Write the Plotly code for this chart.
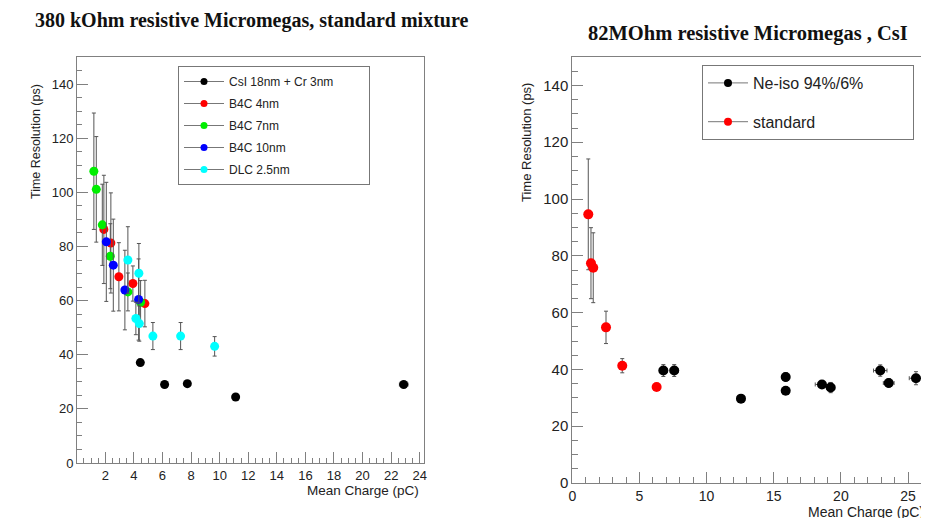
import plotly.graph_objects as go

# ---------------- Left panel data (380 kOhm, standard mixture) ----------------
csi_x = [4.45, 6.15, 7.74, 11.12, 22.88]
csi_y = [37.1, 29.0, 29.3, 24.4, 29.0]
csi_ey = [0.5, 0.5, 0.5, 0.5, 0.6]
csi_ex = [0.0, 0.0, 0.0, 0.0, 0.3]

b4c4_x = [1.90, 2.39, 2.95, 3.93, 4.77]
b4c4_y = [86.3, 81.3, 68.8, 66.3, 58.9]
b4c4_ey = [20.0, 18.5, 12.6, 6.5, 8.6]

b4c7_x = [1.20, 1.37, 1.79, 2.35, 3.58, 4.47]
b4c7_y = [107.8, 101.1, 88.0, 76.4, 63.2, 59.4]
b4c7_ey = [21.5, 19.5, 15.0, 12.0, 7.0, 8.0]

b4c10_x = [2.07, 2.56, 3.37, 4.33]
b4c10_y = [81.7, 73.1, 63.9, 60.4]
b4c10_ey = [22.0, 17.0, 14.7, 15.0]

dlc_x = [3.58, 4.35, 4.14, 4.38, 5.33, 7.27, 9.65]
dlc_y = [75.0, 70.1, 53.4, 51.5, 46.9, 46.9, 43.1]
dlc_ey = [12.3, 11.0, 6.0, 6.5, 5.0, 5.0, 3.6]

left_names = ["CsI 18nm + Cr 3nm", "B4C 4nm", "B4C 7nm", "B4C 10nm", "DLC 2.5nm"]
left_colors = ["#000000", "#ff0000", "#00ee00", "#0000ff", "#00ffff"]

# ---------------- Right panel data (82 MOhm, CsI) ----------------
ne_x = [6.78, 7.59, 12.56, 15.89, 15.89, 18.59, 19.24, 22.93, 23.56, 25.59]
ne_y = [39.6, 39.6, 29.7, 37.3, 32.5, 34.7, 33.6, 39.6, 35.2, 36.9]
ne_ey = [2.1, 2.1, 0.5, 1.5, 0.8, 0.5, 1.8, 2.0, 1.5, 2.3]
ne_ex = [0.3, 0.3, 0.2, 0.2, 0.2, 0.5, 0.3, 0.5, 0.4, 0.5]

std_x = [1.19, 1.39, 1.56, 2.51, 3.72, 6.28]
std_y = [94.6, 77.4, 75.8, 54.8, 41.3, 33.8]
std_ey = [19.5, 12.5, 12.3, 5.7, 2.5, 0.5]

right_names = ["Ne-iso 94%/6%", "standard"]
right_colors = ["#000000", "#ff0000"]

left_title = "380 kOhm resistive Micromegas, standard mixture"
right_title = "82MOhm resistive Micromegas , CsI"
y_title = "Time Resolution (ps)"
x_title = "Mean Charge (pC)"

ERR = "#555555"
AXC = "#808080"
SANS = "Liberation Sans, Arial, sans-serif"
SERIF = "Liberation Serif, Times New Roman, serif"

fig = go.Figure()

left_sets = [
    (csi_x, csi_y, csi_ey, csi_ex),
    (b4c4_x, b4c4_y, b4c4_ey, None),
    (b4c7_x, b4c7_y, b4c7_ey, None),
    (b4c10_x, b4c10_y, b4c10_ey, None),
    (dlc_x, dlc_y, dlc_ey, None),
]
for (xs, ys, ey, ex), name, col in zip(left_sets, left_names, left_colors):
    tr = dict(
        x=xs, y=ys, mode="markers", name=name, showlegend=False,
        marker=dict(color=col, size=9),
        error_y=dict(type="data", array=ey, color=ERR, thickness=1, width=2),
        xaxis="x", yaxis="y",
    )
    if ex is not None:
        tr["error_x"] = dict(type="data", array=ex, color=ERR, thickness=1, width=2)
    fig.add_trace(go.Scatter(**tr))

# legend entries (left)
pad = "&nbsp;" * 9
for name, col in zip(left_names, left_colors):
    fig.add_trace(go.Scatter(
        x=[None], y=[None], mode="lines+markers",
        name=name + (pad if name == left_names[0] else ""),
        line=dict(color="#777777", width=1), marker=dict(color=col, size=7),
        xaxis="x", yaxis="y", legend="legend", legendgroup="L" + name,
    ))

right_sets = [
    (ne_x, ne_y, ne_ey, ne_ex),
    (std_x, std_y, std_ey, None),
]
for (xs, ys, ey, ex), name, col in zip(right_sets, right_names, right_colors):
    tr = dict(
        x=xs, y=ys, mode="markers", name=name, showlegend=False,
        marker=dict(color=col, size=10),
        error_y=dict(type="data", array=ey, color=ERR, thickness=1, width=2),
        xaxis="x2", yaxis="y2",
    )
    if ex is not None:
        tr["error_x"] = dict(type="data", array=ex, color=ERR, thickness=1, width=2)
    fig.add_trace(go.Scatter(**tr))

rpad = "&nbsp;" * 10
for name, col in zip(right_names, right_colors):
    fig.add_trace(go.Scatter(
        x=[None], y=[None], mode="lines+markers",
        name=name + (rpad if name == right_names[0] else ""),
        line=dict(color="#777777", width=1), marker=dict(color=col, size=8),
        xaxis="x2", yaxis="y2", legend="legend2", legendgroup="R" + name,
    ))

# The page body has an 8px margin; figure fills the rest of the 929x518 window.
OFF = 8
W, H = 929 - OFF, 518 - OFF
def px(x):
    return (x - OFF) / W
def py(y):
    return 1 - (y - OFF) / H

axis_common = dict(showgrid=False, zeroline=False, showline=True, linecolor=AXC,
                   linewidth=1, ticks="inside", tickcolor=AXC, ticklen=11,
                   automargin=False)

fig.update_layout(
    width=W, height=H,
    margin=dict(l=0, r=0, t=0, b=0, autoexpand=False),
    paper_bgcolor="white", plot_bgcolor="white",
    xaxis=dict(domain=[px(77), px(424)], range=[0.02, 24.3], anchor="y",
               tickmode="linear", tick0=0, dtick=2, mirror=True,
               minor=dict(dtick=0.5, ticklen=5, ticks="inside", tickcolor=AXC),
               tickfont=dict(family=SANS, size=13, color="#222"), **axis_common),
    yaxis=dict(domain=[py(463), py(57)], range=[0, 150], anchor="x",
               tickmode="linear", tick0=0, dtick=20, mirror=True,
               minor=dict(dtick=5, ticklen=5, ticks="inside", tickcolor=AXC),
               tickfont=dict(family=SANS, size=13, color="#222"), **axis_common),
    xaxis2=dict(domain=[px(572.3), 1.0], range=[0, (929 - 572.3) / 13.43], anchor="y2",
                tickmode="linear", tick0=0, dtick=5, mirror=True,
                minor=dict(dtick=1, ticklen=6, ticks="inside", tickcolor=AXC),
                tickfont=dict(family=SANS, size=14, color="#222"), **axis_common),
    yaxis2=dict(domain=[py(483), py(57)], range=[0, 150], anchor="x2",
                tickmode="linear", tick0=0, dtick=20, mirror=False,
                minor=dict(dtick=5, ticklen=6, ticks="inside", tickcolor=AXC),
                tickfont=dict(family=SANS, size=15, color="#222"), **axis_common),
    legend=dict(x=px(178), y=py(66), xanchor="left", yanchor="top",
                bgcolor="white", bordercolor="#777", borderwidth=1,
                traceorder="grouped", tracegroupgap=3,
                font=dict(family=SANS, size=12, color="#222"), itemwidth=40),
    legend2=dict(x=px(702), y=py(65), xanchor="left", yanchor="top",
                 bgcolor="white", bordercolor="#777", borderwidth=1,
                 traceorder="grouped", tracegroupgap=15,
                 font=dict(family=SANS, size=16, color="#222"), itemwidth=40),
)

ann = [
    dict(text="<b>" + left_title + "</b>", x=px(33), y=py(20), xanchor="left", yanchor="middle",
         font=dict(family=SERIF, size=20, color="#111")),
    dict(text="<b>" + right_title + "</b>", x=px(586), y=py(33), xanchor="left", yanchor="middle",
         font=dict(family=SERIF, size=20.5, color="#111")),
    dict(text=y_title, x=px(36), y=py(142), xanchor="center", yanchor="middle", textangle=-90,
         font=dict(family=SANS, size=12.5, color="#222")),
    dict(text=y_title, x=px(527), y=py(143), xanchor="center", yanchor="middle", textangle=-90,
         font=dict(family=SANS, size=13, color="#222")),
    dict(text=x_title, x=px(421), y=py(490), xanchor="right", yanchor="middle",
         font=dict(family=SANS, size=13.5, color="#222")),
    dict(text=x_title, x=px(806), y=py(512), xanchor="left", yanchor="middle",
         font=dict(family=SANS, size=14, color="#222")),
]
for a in ann:
    a.update(xref="paper", yref="paper", showarrow=False)
fig.update_layout(annotations=ann)

fig.write_html("out.html")
